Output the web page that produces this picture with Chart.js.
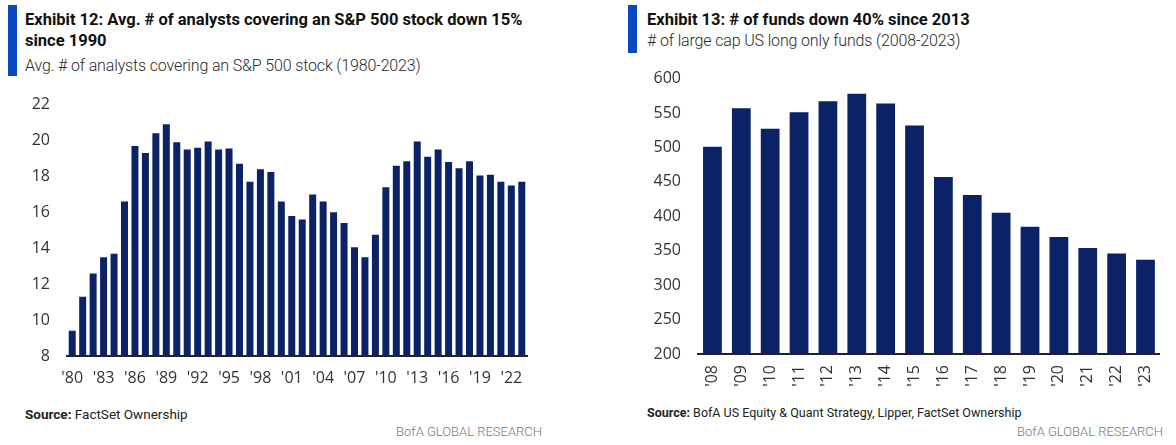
<!DOCTYPE html>
<html lang="en">
<head>
  <meta charset="UTF-8" />
  <title>Analysts and funds</title>
  <script src="https://cdn.jsdelivr.net/npm/chart.js"></script>
  <style>
    * { margin: 0; padding: 0; box-sizing: border-box; }
    body { width: 1176px; height: 445px; background: #fff; position: relative; overflow: hidden;
           font-family: 'Roboto', 'Open Sans', sans-serif; color: #111; }
    .accent { position: absolute; width: 9px; background: #0a47c2; }
    .title { position: absolute; font-weight: 700; font-size: 16.5px; line-height: 21px; color: #111; white-space: nowrap; }
    .sub { position: absolute; font-size: 16px; font-weight: 300; letter-spacing: -0.15px; line-height: 20px; color: #2a2a2a; white-space: nowrap; }
    .src { position: absolute; color: #222; white-space: nowrap; }
    .src b { font-weight: 700; }
    .brand { position: absolute; font-size: 13px; font-weight: 300; color: #777; white-space: nowrap; text-align: right; }
    canvas { position: absolute; }
  </style>
</head>
<body>
  <!-- Exhibit 12 -->
  <div class="accent" style="left:8px; top:5px; height:71px;"></div>
  <div class="title" style="left:25px; top:9px;">Exhibit 12: Avg. # of analysts covering an S&amp;P 500 stock down 15%<br>since 1990</div>
  <div class="sub" style="left:25px; top:56px;">Avg. # of analysts covering an S&amp;P 500 stock (1980-2023)</div>
  <canvas id="analystsBar" width="560" height="322" style="left:0; top:78px;"></canvas>
  <div class="src" style="left:25px; top:406px; font-size:13.5px;"><b>Source:</b> FactSet Ownership</div>
  <div class="brand" style="right:634px; top:424px;">BofA GLOBAL RESEARCH</div>

  <!-- Exhibit 13 -->
  <div class="accent" style="left:628px; top:5px; height:48px;"></div>
  <div class="title" style="left:647px; top:9px;">Exhibit 13: # of funds down 40% since 2013</div>
  <div class="sub" style="left:647px; top:31px;"># of large cap US long only funds (2008-2023)</div>
  <canvas id="fundsBar" width="576" height="348" style="left:600px; top:52px;"></canvas>
  <div class="src" style="left:647px; top:405px; font-size:12.5px;"><b>Source:</b> BofA US Equity &amp; Quant Strategy, Lipper, FactSet Ownership</div>
  <div class="brand" style="right:13px; top:424px;">BofA GLOBAL RESEARCH</div>

  <script>
    // Exhibit 12 data: avg # of analysts per S&P 500 stock
    const yearsA = ["'80","'81","'82","'83","'84","'85","'86","'87","'88","'89",
                    "'90","'91","'92","'93","'94","'95","'96","'97","'98","'99",
                    "'00","'01","'02","'03","'04","'05","'06","'07","'08","'09",
                    "'10","'11","'12","'13","'14","'15","'16","'17","'18","'19",
                    "'20","'21","'22","'23"];
    const analysts = [9.4, 11.3, 12.6, 13.5, 13.7, 16.6, 19.7, 19.3, 20.4, 20.9,
                      19.9, 19.5, 19.6, 19.95, 19.5, 19.55, 18.7, 17.7, 18.4, 18.25,
                      16.6, 15.8, 15.6, 17.0, 16.6, 16.0, 15.4, 14.05, 13.5, 14.75,
                      17.4, 18.6, 18.85, 19.95, 19.1, 19.5, 18.8, 18.45, 18.85, 18.05,
                      18.1, 17.7, 17.5, 17.7];
    const shownTicksA = ["'80","'83","'86","'89","'92","'95","'98","'01","'04","'07","'10","'13","'16","'19","'22"];

    // Exhibit 13 data: # of large cap US long only funds
    const yearsB = ["'08","'09","'10","'11","'12","'13","'14","'15","'16","'17","'18","'19","'20","'21","'22","'23"];
    const funds = [501, 557, 527, 551, 567, 578, 564, 532, 457, 431, 405, 385, 370, 354, 346, 337];

    const navy = '#0b2266';
    const tickFont = { family: "'Open Sans', sans-serif", size: 16 };
    const tickColor = '#333';

    function fixWidth(w) { return function (s) { s.width = w; }; }
    function fixHeight(h) { return function (s) { s.height = h; }; }

    new Chart(document.getElementById('analystsBar'), {
      type: 'bar',
      data: {
        labels: yearsA,
        datasets: [{ data: analysts, backgroundColor: navy, barPercentage: 0.67, categoryPercentage: 1 }]
      },
      options: {
        responsive: false,
        animation: false,
        layout: { padding: { left: 0, right: 33, top: 13, bottom: 10 } },
        plugins: { legend: { display: false }, tooltip: { enabled: false } },
        scales: {
          x: {
            grid: { display: false, drawTicks: false },
            border: { display: true, color: '#222', width: 2 },
            ticks: {
              autoSkip: false, maxRotation: 0, minRotation: 0, padding: 13,
              color: tickColor, font: tickFont,
              callback: function (v, i) { return shownTicksA.includes(yearsA[i]) ? yearsA[i] : ''; }
            },
            afterFit: fixHeight(34)
          },
          y: {
            min: 8, max: 22,
            grid: { display: false, drawTicks: false },
            border: { display: false },
            ticks: { stepSize: 2, padding: 17, color: tickColor, font: tickFont },
            afterFit: fixWidth(67)
          }
        }
      }
    });

    new Chart(document.getElementById('fundsBar'), {
      type: 'bar',
      data: {
        labels: yearsB,
        datasets: [{ data: funds, backgroundColor: navy, barPercentage: 0.65, categoryPercentage: 1 }]
      },
      options: {
        responsive: false,
        animation: false,
        layout: { padding: { left: 0, right: 10, top: 18, bottom: 0 } },
        plugins: { legend: { display: false }, tooltip: { enabled: false } },
        scales: {
          x: {
            grid: { display: false, drawTicks: false },
            border: { display: true, color: '#222', width: 2 },
            ticks: { autoSkip: false, maxRotation: 90, minRotation: 90, padding: 11, color: tickColor, font: tickFont },
            afterFit: fixHeight(46)
          },
          y: {
            min: 200, max: 600,
            grid: { display: false, drawTicks: false },
            border: { display: false },
            ticks: { stepSize: 50, padding: 17, color: tickColor, font: tickFont },
            afterFit: fixWidth(98)
          }
        }
      }
    });
  </script>
</body>
</html>
